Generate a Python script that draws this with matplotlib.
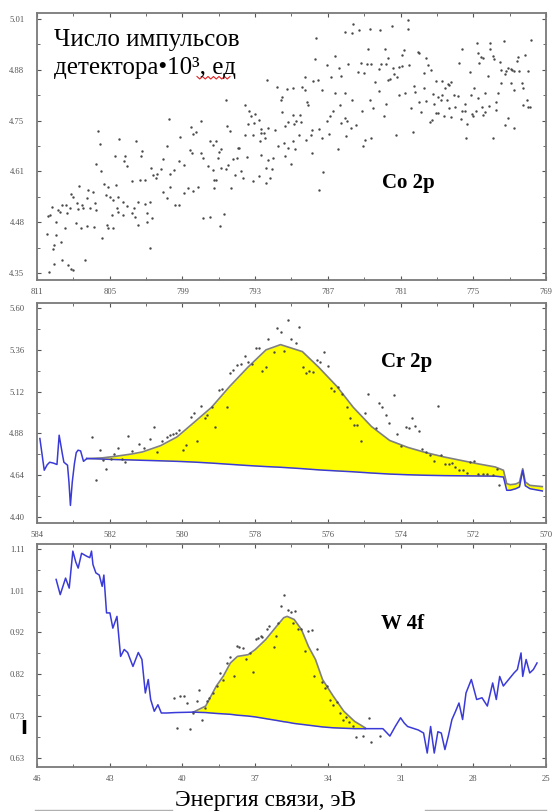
import numpy as np
import matplotlib.pyplot as plt
from matplotlib.lines import Line2D

plt.rcParams['font.family'] = ['Liberation Serif', 'DejaVu Serif']

# ---- Co 2p: raw counts (binding energy, counts*1e3)
co_points = [
    (800.1, 4.750), (806.0, 4.718), (805.8, 4.686), (804.2, 4.699), (802.8, 4.692), (798.3, 4.729),
    (797.5, 4.746), (797.9, 4.716), (798.1, 4.712), (799.2, 4.703), (800.3, 4.679), (804.6, 4.655),
    (803.7, 4.653), (802.3, 4.666), (802.4, 4.653), (800.6, 4.647), (798.4, 4.669), (798.2, 4.662),
    (797.5, 4.662), (797.3, 4.648), (806.1, 4.633), (805.7, 4.614), (803.8, 4.640), (803.6, 4.627),
    (801.6, 4.622), (800.8, 4.621), (799.3, 4.640), (798.9, 4.631), (799.7, 4.618), (800.0, 4.608),
    (801.2, 4.598), (801.4, 4.605), (801.1, 4.607), (802.5, 4.592), (802.1, 4.592), (803.2, 4.590),
    (804.5, 4.579), (805.1, 4.574), (805.5, 4.581), (807.5, 4.577), (808.2, 4.555), (808.0, 4.548),
    (806.9, 4.546), (806.4, 4.561), (806.8, 4.566), (806.2, 4.531), (805.3, 4.553), (805.0, 4.548),
    (804.7, 4.540), (804.3, 4.548), (803.9, 4.534), (803.6, 4.525), (803.0, 4.518), (802.7, 4.535),
    (802.1, 4.529), (801.7, 4.535), (800.6, 4.561), (800.0, 4.574), (800.3, 4.546), (799.6, 4.527),
    (799.3, 4.527), (798.9, 4.557), (798.5, 4.570), (798.1, 4.563), (797.7, 4.574), (797.3, 4.493),
    (809.8, 4.522), (810.1, 4.499), (809.9, 4.500), (809.3, 4.513), (809.1, 4.509), (808.9, 4.527),
    (808.6, 4.528), (808.5, 4.505), (808.3, 4.518), (807.7, 4.531), (807.6, 4.516), (807.3, 4.527),
    (807.2, 4.518), (806.6, 4.520), (806.1, 4.513), (804.4, 4.520), (804.8, 4.500), (804.3, 4.509),
    (803.9, 4.500), (803.2, 4.507), (802.9, 4.496), (801.9, 4.505), (801.5, 4.492), (802.7, 4.476),
    (801.9, 4.483), (809.4, 4.483), (808.7, 4.466), (807.8, 4.481), (807.4, 4.468), (806.9, 4.472),
    (806.3, 4.470), (805.2, 4.474), (805.1, 4.467), (804.7, 4.466), (805.6, 4.442), (810.2, 4.452),
    (809.4, 4.448), (809.6, 4.422), (809.7, 4.413), (809.0, 4.431), (801.7, 4.416), (808.9, 4.385),
    (809.6, 4.374), (808.4, 4.372), (808.2, 4.361), (808.0, 4.357), (807.0, 4.383), (810.0, 4.354),
    (784.9, 4.997), (785.6, 4.977), (785.0, 4.973), (784.4, 4.981), (783.5, 4.984), (788.0, 4.960),
    (783.7, 4.932), (786.4, 4.914), (788.1, 4.905), (787.1, 4.890), (786.1, 4.882), (785.3, 4.894),
    (784.3, 4.897), (783.8, 4.892), (783.4, 4.892), (784.5, 4.873), (784.0, 4.871), (788.9, 4.860),
    (788.2, 4.849), (787.8, 4.852), (786.7, 4.860), (785.9, 4.862), (792.0, 4.851), (791.2, 4.833),
    (790.4, 4.829), (789.9, 4.830), (789.1, 4.833), (788.9, 4.827), (787.5, 4.827), (786.4, 4.817),
    (785.6, 4.818), (790.9, 4.801), (790.8, 4.807), (788.7, 4.795), (788.6, 4.788), (785.0, 4.801),
    (783.5, 4.800), (795.4, 4.801), (793.8, 4.786), (793.5, 4.770), (793.0, 4.764), (793.3, 4.757),
    (793.1, 4.740), (793.6, 4.737), (792.7, 4.749), (790.8, 4.769), (790.3, 4.743), (789.9, 4.762),
    (789.3, 4.762), (789.6, 4.744), (789.2, 4.743), (789.8, 4.738), (790.5, 4.731), (791.4, 4.722),
    (792.5, 4.725), (792.5, 4.714), (792.3, 4.714), (791.9, 4.727), (788.3, 4.722), (787.7, 4.725),
    (787.1, 4.744), (786.8, 4.757), (786.6, 4.770), (786.0, 4.786), (785.6, 4.753), (785.9, 4.740),
    (785.4, 4.744), (785.1, 4.727), (784.7, 4.736), (784.2, 4.770), (783.3, 4.779), (785.5, 4.705),
    (786.9, 4.711), (787.5, 4.701), (788.8, 4.696), (788.4, 4.709), (795.3, 4.731), (795.1, 4.718),
    (793.8, 4.708), (793.2, 4.708), (792.6, 4.692), (792.2, 4.701), (789.9, 4.694), (789.4, 4.708),
    (796.7, 4.692), (796.2, 4.692), (796.5, 4.682), (795.8, 4.672), (796.0, 4.664), (794.4, 4.676),
    (794.3, 4.675), (791.1, 4.679), (790.6, 4.688), (790.3, 4.676), (789.7, 4.673), (788.3, 4.663),
    (786.2, 4.673), (783.9, 4.696), (783.4, 4.701), (784.1, 4.679), (796.1, 4.648), (794.8, 4.646),
    (794.5, 4.650), (793.7, 4.651), (792.5, 4.657), (791.9, 4.644), (791.5, 4.648), (790.5, 4.653),
    (790.0, 4.634), (796.9, 4.627), (796.5, 4.618), (795.8, 4.622), (795.4, 4.621), (795.2, 4.631),
    (794.2, 4.614), (792.1, 4.624), (791.6, 4.620), (796.4, 4.592), (796.2, 4.592), (794.7, 4.605),
    (794.0, 4.598), (792.7, 4.601), (793.2, 4.590), (791.8, 4.596), (792.1, 4.583), (795.0, 4.572),
    (796.4, 4.570), (787.4, 4.612), (787.7, 4.567), (796.7, 4.497), (795.6, 4.504), (795.9, 4.473),
    (780.4, 5.008), (781.7, 4.993), (782.7, 4.982), (780.4, 4.984), (772.5, 4.953), (770.2, 4.956),
    (773.6, 4.949), (774.7, 4.947), (775.9, 4.932), (774.6, 4.923), (773.6, 4.932), (782.3, 4.932),
    (780.7, 4.929), (779.6, 4.925), (779.5, 4.923), (780.9, 4.916), (782.0, 4.910), (778.9, 4.908),
    (774.4, 4.912), (774.2, 4.910), (773.4, 4.914), (773.3, 4.907), (771.3, 4.912), (770.7, 4.917),
    (782.6, 4.894), (782.2, 4.894), (780.3, 4.891), (781.6, 4.884), (781.1, 4.885), (780.9, 4.888),
    (778.7, 4.891), (778.5, 4.877), (776.2, 4.895), (774.5, 4.895), (772.8, 4.898), (772.7, 4.877),
    (772.1, 4.884), (771.9, 4.881), (771.8, 4.877), (771.4, 4.901), (772.3, 4.875), (771.6, 4.875),
    (771.2, 4.875), (770.5, 4.875), (779.1, 4.871), (775.3, 4.873), (773.8, 4.862), (772.4, 4.866),
    (782.8, 4.879), (781.5, 4.866), (781.9, 4.853), (782.0, 4.851), (781.3, 4.859), (778.1, 4.849),
    (777.6, 4.849), (776.8, 4.846), (777.1, 4.840), (777.0, 4.838), (777.3, 4.830), (779.9, 4.837),
    (779.1, 4.830), (774.9, 4.831), (774.0, 4.818), (773.0, 4.818), (772.7, 4.844), (771.9, 4.844),
    (771.6, 4.827), (771.0, 4.844), (770.9, 4.831), (783.1, 4.846), (782.8, 4.824), (781.1, 4.814),
    (780.6, 4.817), (779.8, 4.821), (778.3, 4.816), (777.9, 4.808), (777.6, 4.812), (776.6, 4.814),
    (776.3, 4.810), (777.2, 4.801), (777.7, 4.801), (775.2, 4.814), (774.6, 4.805), (773.1, 4.794),
    (770.6, 4.801), (782.2, 4.790), (780.1, 4.779), (779.5, 4.795), (778.9, 4.798), (778.2, 4.790),
    (775.7, 4.790), (777.0, 4.779), (776.5, 4.781), (775.9, 4.770), (775.7, 4.772), (774.8, 4.772),
    (774.3, 4.781), (774.0, 4.769), (773.7, 4.783), (773.1, 4.775), (770.9, 4.788), (770.5, 4.782),
    (770.3, 4.781), (782.4, 4.757), (779.3, 4.769), (778.1, 4.766), (777.9, 4.766), (777.4, 4.759),
    (776.8, 4.756), (776.0, 4.751), (775.1, 4.763), (775.0, 4.757), (774.2, 4.762), (778.6, 4.743),
    (778.4, 4.749), (775.5, 4.738), (772.1, 4.753), (772.4, 4.734), (771.6, 4.727), (780.0, 4.716),
    (781.4, 4.709), (775.6, 4.701), (773.4, 4.702),
]

# ---- Cr 2p
cr_points = [
    (582.50, 4.861), (582.38, 4.615), (582.28, 4.784), (582.19, 4.730), (582.09, 4.675), (581.97, 4.736),
    (581.88, 4.765), (581.78, 4.799), (581.67, 4.736), (581.58, 4.717), (581.49, 4.867), (581.39, 4.778),
    (581.19, 4.819), (581.05, 4.794), (580.89, 4.847), (580.78, 4.915), (580.70, 4.774), (580.57, 4.836),
    (580.43, 4.861), (580.35, 4.870), (580.26, 4.876), (580.17, 4.884), (580.10, 4.899), (579.98, 4.784),
    (579.90, 4.813), (579.75, 4.972), (579.67, 4.999), (579.59, 4.836), (579.48, 5.037), (579.39, 4.966),
    (579.31, 4.986), (579.19, 5.030), (579.09, 4.915), (578.99, 5.130), (578.91, 5.133), (578.78, 5.034),
    (578.70, 5.229), (578.62, 5.245), (578.50, 5.274), (578.39, 5.277), (578.29, 5.327), (578.19, 5.293),
    (578.09, 5.279), (577.98, 5.373), (577.88, 5.373), (577.80, 5.239), (577.70, 5.260), (577.64, 5.421),
    (577.49, 5.347), (577.39, 5.485), (577.29, 5.464), (577.20, 5.354), (577.10, 5.529), (577.00, 5.423),
    (576.87, 5.398), (576.79, 5.491), (576.67, 5.264), (576.59, 5.229), (576.51, 5.239), (576.42, 5.235),
    (576.31, 5.302), (576.21, 5.293), (576.10, 5.347), (576.00, 5.268), (575.90, 5.139), (575.82, 5.124),
    (575.71, 5.149), (575.61, 5.105), (575.48, 5.034), (575.38, 4.966), (575.29, 4.928), (575.19, 4.928),
    (575.09, 4.838), (574.97, 4.995), (574.90, 5.107), (574.68, 4.909), (574.60, 5.057), (574.51, 5.034),
    (574.41, 4.986), (574.31, 4.938), (574.19, 5.101), (574.10, 4.876), (573.98, 4.809), (573.85, 4.918),
    (573.76, 4.909), (573.68, 4.966), (573.59, 4.924), (573.48, 4.893), (573.40, 4.788), (573.29, 4.771),
    (573.19, 4.759), (573.09, 4.721), (572.98, 5.037), (572.90, 4.759), (572.78, 4.707), (572.68, 4.703),
    (572.59, 4.711), (572.49, 4.688), (572.39, 4.673), (572.27, 4.669), (572.17, 4.653), (572.08, 4.717),
    (571.98, 4.723), (571.86, 4.646), (571.74, 4.646), (571.61, 4.646), (571.47, 4.640), (571.34, 4.678),
    (571.29, 4.582),
]
cr_fit_x = [582.63, 582.2, 581.8, 581.4, 581.1, 580.6, 580.15, 579.7, 579.2, 578.7, 578.2, 577.7,
            577.3, 576.7, 576.25, 575.75, 575.3, 574.8, 574.3, 573.8, 573.3, 572.8, 572.35, 571.85,
            571.4, 571.17, 571.08, 570.98, 570.83, 570.73, 570.64, 570.57, 570.44, 570.10]
cr_fit = [4.736, 4.740, 4.750, 4.762, 4.774, 4.810, 4.860, 4.940, 5.030, 5.150, 5.260, 5.360,
          5.390, 5.350, 5.260, 5.150, 5.030, 4.920, 4.840, 4.800, 4.770, 4.745, 4.726, 4.705,
          4.688, 4.669, 4.592, 4.586, 4.590, 4.600, 4.678, 4.602, 4.582, 4.575]
cr_base = [4.736, 4.733, 4.730, 4.728, 4.726, 4.723, 4.720, 4.716, 4.710, 4.703, 4.696, 4.690,
           4.686, 4.678, 4.671, 4.665, 4.660, 4.653, 4.647, 4.643, 4.640, 4.638, 4.637, 4.636,
           4.635, 4.630, 4.554, 4.554, 4.563, 4.573, 4.669, 4.580, 4.563, 4.550]
cr_raw_x = [583.92, 583.80, 583.72, 583.65, 583.55, 583.45, 583.39, 583.30, 583.26, 583.16,
            583.12, 583.08, 583.03, 582.97, 582.92, 582.87, 582.80, 582.72, 582.63]
cr_raw = [4.851, 4.669, 4.700, 4.715, 4.710, 4.702, 4.870, 4.760, 4.715, 4.698,
          4.600, 4.467, 4.600, 4.707, 4.770, 4.784, 4.780, 4.720, 4.736]

# ---- W 4f
w_points = [
    (40.36, 0.768), (40.21, 0.699), (40.09, 0.772), (39.95, 0.773), (39.80, 0.755), (39.70, 0.697),
    (39.55, 0.733), (39.41, 0.760), (39.30, 0.785), (39.19, 0.718), (39.07, 0.745), (38.97, 0.760),
    (38.89, 0.768), (38.75, 0.779), (38.57, 0.796), (38.46, 0.825), (38.34, 0.808), (38.16, 0.848),
    (38.02, 0.862), (37.87, 0.819), (37.75, 0.886), (37.65, 0.885), (37.51, 0.883), (37.36, 0.857),
    (37.21, 0.871), (37.07, 0.827), (36.96, 0.903), (36.88, 0.905), (36.77, 0.909), (36.70, 0.908),
    (36.53, 0.925), (36.41, 0.932), (36.23, 0.885), (36.12, 0.909), (36.04, 0.939), (35.94, 0.980),
    (35.82, 1.004), (35.65, 0.969), (35.50, 0.966), (35.36, 0.968), (35.42, 0.939), (35.24, 0.925),
    (35.09, 0.927), (34.95, 0.875), (34.80, 0.921), (34.65, 0.923), (34.58, 0.818), (34.44, 0.879),
    (34.25, 0.804), (34.13, 0.791), (34.04, 0.795), (33.92, 0.762), (33.78, 0.752), (33.63, 0.758),
    (33.51, 0.733), (33.37, 0.718), (33.27, 0.724), (33.12, 0.712), (32.97, 0.703), (32.83, 0.678),
    (32.54, 0.681), (32.32, 0.722), (32.20, 0.666), (31.85, 0.681),
]
w_fit_x = [39.55, 39.04, 38.60, 38.31, 38.02, 37.73, 37.29, 36.99, 36.56, 36.12, 35.82,
           35.68, 35.39, 35.09, 34.80, 34.51, 34.22, 33.78, 33.34, 32.90, 32.46]
w_fit = [0.735, 0.749, 0.795, 0.818, 0.848, 0.863, 0.867, 0.879, 0.902, 0.932, 0.952,
         0.955, 0.948, 0.925, 0.886, 0.856, 0.810, 0.772, 0.737, 0.714, 0.699]
w_base = [0.735, 0.734, 0.732, 0.731, 0.730, 0.728, 0.726, 0.724, 0.720, 0.716, 0.713,
          0.712, 0.709, 0.707, 0.705, 0.703, 0.701, 0.699, 0.698, 0.697, 0.697]
w_left_x = [45.21, 45.04, 44.82, 44.67, 44.52, 44.40, 44.30, 44.16, 43.94, 43.82, 43.75, 43.69,
            43.57, 43.43, 43.31, 43.24, 43.13, 42.99, 42.87, 42.70, 42.55, 42.40, 42.26, 42.04,
            41.82, 41.67, 41.53, 41.41, 41.31, 41.16, 41.01, 40.87, 40.65, 40.30, 39.55]
w_left = [1.040, 1.005, 1.043, 1.020, 1.105, 1.080, 1.066, 1.100, 1.093, 1.090, 1.105, 1.074,
          1.055, 1.050, 1.024, 1.050, 0.963, 0.963, 0.928, 0.955, 0.863, 0.879, 0.872, 0.840,
          0.872, 0.856, 0.779, 0.810, 0.764, 0.737, 0.752, 0.733, 0.733, 0.734, 0.735]
w_right_x = [32.46, 31.73, 31.44, 31.22, 31.00, 30.85, 30.71, 30.49, 30.27, 30.05, 29.90, 29.76,
             29.61, 29.46, 29.32, 29.17, 29.03, 28.88, 28.73, 28.59, 28.44, 28.30, 28.08, 27.86,
             27.64, 27.42, 27.20, 27.05, 26.91, 26.76, 26.54, 26.32, 26.18, 26.03, 25.96, 25.82,
             25.67, 25.52, 25.37]
w_right = [0.697, 0.697, 0.680, 0.702, 0.722, 0.710, 0.702, 0.698, 0.694, 0.687, 0.641, 0.702,
           0.641, 0.690, 0.687, 0.649, 0.680, 0.718, 0.737, 0.756, 0.718, 0.779, 0.810, 0.764,
           0.768, 0.749, 0.802, 0.764, 0.817, 0.795, 0.810, 0.825, 0.833, 0.871, 0.817, 0.856,
           0.825, 0.833, 0.848]

# ---- ticks
co_xticks = [811, 805, 799, 793, 787, 781, 775, 769]
cr_xticks = [584, 582, 580, 578, 576, 574, 572, 570]
w_xticks = [46, 43, 40, 37, 34, 31, 28, 25]
co_ylabels = ['4.35', '4.48', '4.61', '4.75', '4.88', '5.01']
cr_ylabels = ['4.40', '4.64', '4.88', '5.12', '5.36', '5.60']
w_ylabels = ['0.63', '0.73', '0.82', '0.92', '1.01', '1.11']

BLUE = '#3a3ad8'
DOT = '#4a4a4a'
SPINE = '#7a7a7a'

fig = plt.figure(figsize=(5.56, 8.11), dpi=100)
ax1 = fig.add_axes([0.0665, 0.6547, 0.9155, 0.3292])
ax2 = fig.add_axes([0.0665, 0.3551, 0.9155, 0.2713])
ax3 = fig.add_axes([0.0665, 0.0543, 0.9155, 0.2750])


def style(ax, xticks, ylabels, ylim):
    ax.set_xlim(xticks[0], xticks[-1])
    ax.set_ylim(*ylim)
    xt = np.array(xticks, dtype=float)
    ax.set_xticks(xt)
    ax.set_xticks((xt[:-1] + xt[1:]) / 2, minor=True)
    ax.set_xticklabels([str(t) for t in xticks])
    yv = np.linspace(float(ylabels[0]), float(ylabels[-1]), len(ylabels))
    ax.set_yticks(yv)
    ax.set_yticks((yv[:-1] + yv[1:]) / 2, minor=True)
    ax.set_yticklabels(ylabels)
    ax.tick_params(which='both', direction='in', top=True, right=True,
                   colors='#555555', labelsize=6.2)
    ax.tick_params(which='major', length=3, width=0.8)
    ax.tick_params(which='minor', length=2, width=0.6)
    ax.tick_params(axis='x', pad=6)
    ax.tick_params(axis='y', pad=9)
    for s in ax.spines.values():
        s.set_color(SPINE)
        s.set_linewidth(1.3)


# Co 2p
co_x = [p[0] for p in co_points]
co_y = [p[1] for p in co_points]
ax1.scatter(co_x, co_y, s=3, color=DOT, linewidths=0, zorder=3)
style(ax1, co_xticks, co_ylabels, (4.332, 5.0256))
ax1.text(0.729, 0.365, 'Co 2p', transform=ax1.transAxes, ha='center', va='center',
         fontsize=15, fontweight='bold')

# Cr 2p
ax2.fill_between(cr_fit_x, cr_base, cr_fit, color='#ffff00', linewidth=0, zorder=1)
ax2.plot(cr_fit_x, cr_fit, color='#808080', lw=1.2, zorder=2)
ax2.plot(cr_fit_x, cr_base, color=BLUE, lw=1.1, zorder=2)
ax2.plot(cr_raw_x, cr_raw, color=BLUE, lw=1.1, zorder=2)
ax2.scatter([p[0] for p in cr_points], [p[1] for p in cr_points], s=3, color=DOT,
            linewidths=0, zorder=3)
style(ax2, cr_xticks, cr_ylabels, (4.366, 5.629))
ax2.text(0.727, 0.732, 'Cr 2p', transform=ax2.transAxes, ha='center', va='center',
         fontsize=15, fontweight='bold')

# W 4f
ax3.fill_between(w_fit_x, w_base, w_fit, color='#ffff00', linewidth=0, zorder=1)
ax3.plot(w_fit_x, w_fit, color='#808080', lw=1.2, zorder=2)
ax3.plot(w_fit_x, w_base, color=BLUE, lw=1.1, zorder=2)
ax3.plot(w_left_x, w_left, color=BLUE, lw=1.1, zorder=2)
ax3.plot(w_right_x, w_right, color=BLUE, lw=1.1, zorder=2)
ax3.scatter([p[0] for p in w_points], [p[1] for p in w_points], s=3, color=DOT,
            linewidths=0, zorder=3)
style(ax3, w_xticks, w_ylabels, (0.609, 1.1215))
ax3.text(0.719, 0.639, 'W 4f', transform=ax3.transAxes, ha='center', va='center',
         fontsize=15, fontweight='bold')

# y label inside the top panel
W, H = 556.0, 811.0
fig.text(54 / W, 1 - 46 / H, 'Число импульсов', fontsize=18, ha='left', va='baseline')
fig.text(54 / W, 1 - 74 / H, 'детектора•10³, ед', fontsize=18, ha='left', va='baseline')
# spell-check squiggle under "ед"
zx = np.linspace(197, 230, 13)
zy = np.where(np.arange(13) % 2 == 0, 76.5, 79.0)
fig.add_artist(Line2D(zx / W, 1 - zy / H, color='#e02020', lw=0.8))

fig.text(23.5 / W, 1 - 729 / H, 'I', fontsize=13.5, fontweight='bold',
         family='DejaVu Sans', ha='center', va='center')

# x label with frame remnants
fig.text(266 / W, 1 - 806 / H, 'Энергия связи, эВ', fontsize=17, ha='center', va='baseline')
fig.add_artist(Line2D([35 / W, 172 / W], [1 - 809.5 / H] * 2, color='#b0b0b0', lw=1))
fig.add_artist(Line2D([425 / W, 546 / W], [1 - 809.5 / H] * 2, color='#b0b0b0', lw=1))

fig.savefig('out.png', dpi=100)
